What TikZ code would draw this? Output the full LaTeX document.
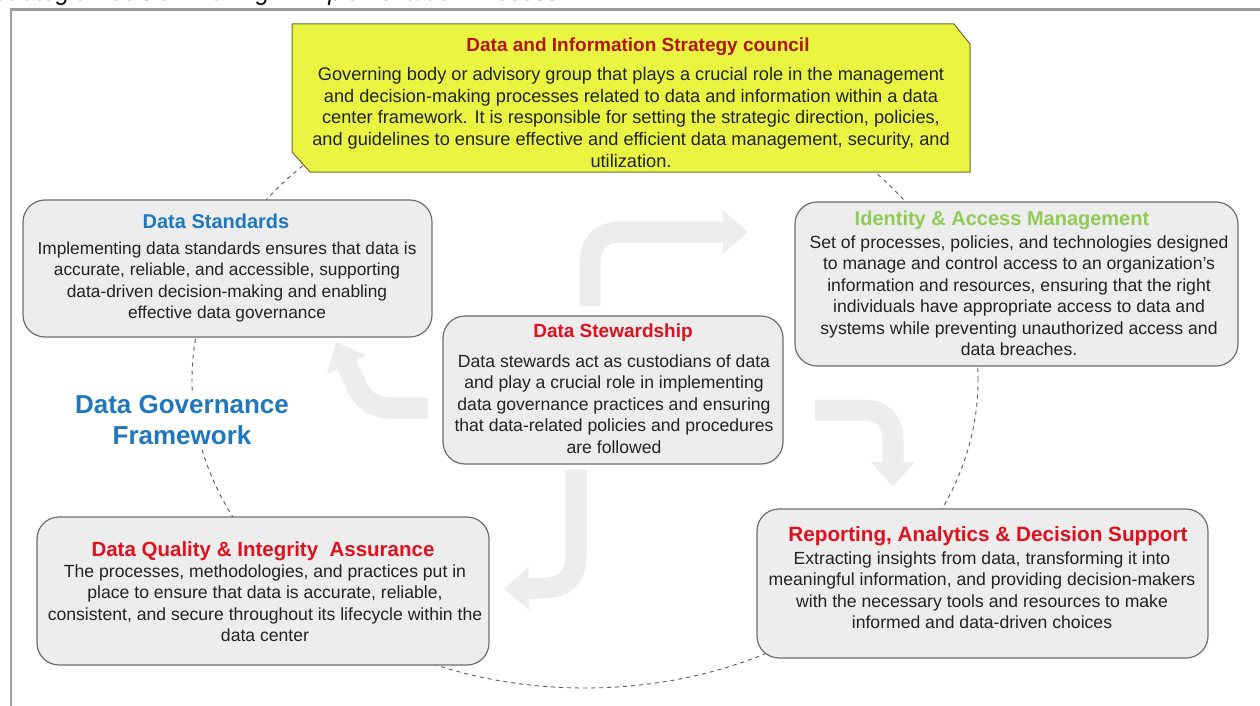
\documentclass[tikz,border=0pt]{standalone}
\usepackage{fontspec}
\setmainfont{Liberation Sans}
\usetikzlibrary{arrows.meta}
\definecolor{boxfill}{HTML}{EDEDED}
\definecolor{boxline}{HTML}{6E6E6E}
\definecolor{bodycol}{HTML}{222222}
\definecolor{redt}{HTML}{E0101E}
\definecolor{darkred}{HTML}{B0180F}
\definecolor{bluet}{HTML}{1F78BE}
\definecolor{greent}{HTML}{8FCB55}
\definecolor{yellowf}{HTML}{EAF542}
\definecolor{yellowl}{HTML}{6A6A3A}
\definecolor{arrowg}{HTML}{EDEDED}
\definecolor{framecol}{HTML}{9C9C9C}
\definecolor{dashcol}{HTML}{5A5A5A}
\begin{document}
\begin{tikzpicture}[x=1pt,y=-1pt,
  box/.style={draw=boxline, fill=boxfill, line width=1.2pt, rounded corners=22pt, inner sep=0pt, outer sep=0pt},
  ttl/.style={font=\bfseries\fontsize{19}{22}\selectfont, inner sep=0pt},
  bodytxt/.style={font=\fontsize{17.3}{21.5}\selectfont, align=center, inner sep=0pt, text=bodycol, anchor=north},
  bentarrow/.style={draw=arrowg, line width=21pt, -{Triangle[length=25pt,width=42pt]}},
  ring/.style={draw=dashcol, line width=0.9pt, dash pattern=on 4pt off 4pt}
]
\useasboundingbox (0,0) rectangle (1260,706);
\fill[white] (0,0) rectangle (1260,706);

% cut-off heading at the top
\begin{scope}
\clip (0,0) rectangle (1260,706);
\node[anchor=base west, inner sep=0pt, font=\itshape\fontsize{24}{28}\selectfont] (heading) at (-8,0.5) {Strategic Decision Making in Implementation Process};
\end{scope}

% frame
\draw[framecol, line width=2.5pt] (11,706) -- (11,9.5) -- (1260,9.5);

% dashed ring
\draw[ring] (585,380) ellipse [x radius=393pt, y radius=308pt];

% council (snipped corners)
\node[minimum width=678pt, minimum height=148pt, inner sep=0pt, outer sep=0pt] (council) at (631,98) {};
\draw[draw=yellowl, fill=yellowf, line width=1pt]
  (council.north west) -- ([xshift=-16pt]council.north east) -- ([yshift=-20pt]council.north east)
  -- (council.south east) -- ([xshift=18pt]council.south west) -- ([yshift=20pt]council.south west) -- cycle;
\node[ttl, text=darkred] (councilt) at (638,47) {Data and Information Strategy council};
\node[bodytxt, font=\fontsize{18.2}{21.8}\selectfont] (councilb) at (631,67) {Governing body or advisory group that plays a crucial role in the management\\ and decision-making processes related to data and information within a data\\ center framework. It is responsible for setting the strategic direction, policies,\\ and guidelines to ensure effective and efficient data management, security, and\\ utilization.};

% Data Standards
\node[box, minimum width=409pt, minimum height=137pt] (ds) at (227.5,268.5) {};
\node[ttl, text=bluet, font=\bfseries\fontsize{20}{22}\selectfont] (dst) at (216,221) {Data Standards};
\node[bodytxt] (dsb) at (227,241.5) {Implementing data standards ensures that data is\\ accurate, reliable, and accessible, supporting\\ data-driven decision-making and enabling\\ effective data governance};

% Identity & Access Management
\node[box, minimum width=443pt, minimum height=164pt] (iam) at (1016.5,284) {};
\node[ttl, text=greent, font=\bfseries\fontsize{20}{22}\selectfont] (iamt) at (1002,220) {Identity \& Access Management};
\node[bodytxt, font=\fontsize{17.6}{21.4}\selectfont] (iamb) at (1019,235.5) {Set of processes, policies, and technologies designed\\ to manage and control access to an organization's\\ information and resources, ensuring that the right\\ individuals have appropriate access to data and\\ systems while preventing unauthorized access and\\ data breaches.};

% Data Stewardship
\node[box, minimum width=340pt, minimum height=148pt] (stew) at (613,390) {};
\node[ttl, text=redt] (stewt) at (613,333) {Data Stewardship};
\node[bodytxt, font=\fontsize{17.6}{21.5}\selectfont] (stewb) at (614,354.5) {Data stewards act as custodians of data\\ and play a crucial role in implementing\\ data governance practices and ensuring\\ that data-related policies and procedures\\ are followed};

% Data Quality
\node[box, minimum width=452pt, minimum height=148pt] (dq) at (263,591) {};
\node[ttl, text=redt, font=\bfseries\fontsize{20.5}{22}\selectfont] (dqt) at (263,551) {Data Quality \& Integrity\ \ Assurance};
\node[bodytxt, font=\fontsize{17.6}{21.5}\selectfont] (dqb) at (265,564.5) {The processes, methodologies, and practices put in\\ place to ensure that data is accurate, reliable,\\ consistent, and secure throughout its lifecycle within the\\ data center};

% Reporting
\node[box, minimum width=451pt, minimum height=149pt] (rad) at (982.5,583.5) {};
\node[ttl, text=redt, font=\bfseries\fontsize{20.7}{22}\selectfont] (radt) at (988,536) {Reporting, Analytics \& Decision Support};
\node[bodytxt, font=\fontsize{17.6}{21.5}\selectfont] (radb) at (982,551.5) {Extracting insights from data, transforming it into\\ meaningful information, and providing decision-makers\\ with the necessary tools and resources to make\\ informed and data-driven choices};

% Framework label
\node[fill=white, inner sep=4pt, align=center, text=bluet, font=\bfseries\fontsize{26}{31}\selectfont] (dgf) at (182,420) {Data Governance\\ Framework};

% bent arrows
\coordinate (a1s) at (590,306); \coordinate (a1e) at (748,232);
\draw[bentarrow] (a1s) -- (590,265) .. controls (590,243) and (600,232) .. (622,232) -- (a1e);
\coordinate (a2s) at (815,410); \coordinate (a2e) at (893,487);
\draw[bentarrow] (a2s) -- (862,410) .. controls (882,410) and (893,420) .. (893,440) -- (a2e);
\coordinate (a3s) at (576,470); \coordinate (a3e) at (504,589);
\draw[bentarrow] (a3s) -- (576,556) .. controls (576,576) and (566,587) .. (546,588) -- (a3e);
\coordinate (a4s) at (428,408); \coordinate (a4e) at (336,342);
\draw[bentarrow] (a4s) -- (392,408) .. controls (372,408) and (360,398) .. (354,380) -- (a4e);
\end{tikzpicture}
\end{document}
